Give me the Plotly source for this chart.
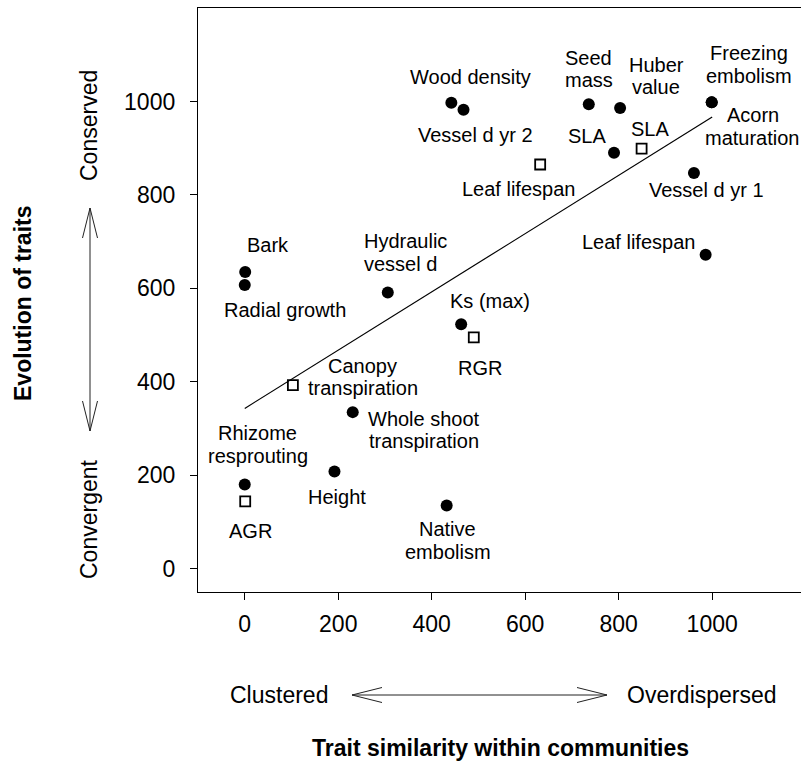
import plotly.graph_objects as go

# ---------------- data ----------------
circle_names = ["Bark", "Radial growth", "Hydraulic\nvessel d", "Whole shoot\ntranspiration",
                "Height", "Rhizome\nresprouting", "Native\nembolism", "Ks (max)",
                "Wood density", "Vessel d yr 2", "Seed\nmass", "Huber\nvalue",
                "Freezing\nembolism", "Acorn\nmaturation", "SLA", "Vessel d yr 1", "Leaf lifespan"]
circle_x = [1, 0, 306, 231, 192, 0, 432, 463, 442, 468, 736, 803, 999, 999, 790, 961, 986]
circle_y = [635, 607, 591, 335, 208, 180, 135, 523, 997, 982, 994, 986, 998, 998, 890, 847, 672]

square_names = ["Canopy\ntranspiration", "AGR", "RGR", "Leaf lifespan", "SLA"]
square_x = [103, 1, 490, 632, 849]
square_y = [393, 144, 495, 865, 899]

fit_intercept = 343.0
fit_slope = 0.6235
fit_x = [0, 1000]

tick_vals = [0, 200, 400, 600, 800, 1000]
x_title = "Trait similarity within communities"
y_title = "Evolution of traits"
x_left_label, x_right_label = "Clustered", "Overdispersed"
y_top_label, y_bottom_label = "Conserved", "Convergent"

# ---------------- label placement (pixel offsets from point: dx right, dy down) ----------------
circle_label_offsets = [(23, -27), (40, 25), (-26, -40), (71, 18), (3, 26), (13, -40), (1, 35),
                        (29, -23), (19, -26), (12, 25), (0, -35), (36, -32), (37, -38),
                        (41, 24), (-27, -17), (13, 17), (-67, -13)]
circle_label_anchor = ["center", "center", "left", "center", "center", "center", "center",
                       "center", "center", "center", "center", "center", "center",
                       "center", "center", "center", "center"]
square_label_offsets = [(70, -8), (5, 30), (6, 31), (-22, 24), (8, -20)]
square_label_anchor = ["center"] * 5

FONT = "Liberation Sans, Arial, sans-serif"
LABEL_SIZE = 20
BIG = 23
LINE_H = 22.5

W, H = 801, 778
ML, MR, MT, MB = 198, 0, 8, 186
PW, PH = W - ML - MR, H - MT - MB


def px(xp):
    return (xp - ML) / PW


def py(yp):
    return (H - MB - yp) / PH


fig = go.Figure()

fit_y = [fit_intercept + fit_slope * v for v in fit_x]
fig.add_trace(go.Scatter(x=fit_x, y=fit_y, mode="lines",
                         line=dict(color="black", width=1.2), hoverinfo="skip"))
fig.add_trace(go.Scatter(x=circle_x, y=circle_y, mode="markers",
                         marker=dict(symbol="circle", size=12, color="black"),
                         text=[n.replace("\n", " ") for n in circle_names]))
fig.add_trace(go.Scatter(x=square_x, y=square_y, mode="markers",
                         marker=dict(symbol="square-open", size=10, color="black",
                                     line=dict(width=1.8, color="black")),
                         text=[n.replace("\n", " ") for n in square_names]))

annotations = []


def add_labels(names, xs, ys, offsets, anchors):
    for name, x, y, (dx, dy), anc in zip(names, xs, ys, offsets, anchors):
        lines = name.split("\n")
        n = len(lines)
        for i, line in enumerate(lines):
            off = dy + (i - (n - 1) / 2) * LINE_H
            annotations.append(dict(
                x=x, y=y, xref="x", yref="y", text=line, showarrow=False,
                xshift=dx, yshift=-off, xanchor=anc, yanchor="middle",
                font=dict(family=FONT, size=LABEL_SIZE, color="black")))


add_labels(circle_names, circle_x, circle_y, circle_label_offsets, circle_label_anchor)
add_labels(square_names, square_x, square_y, square_label_offsets, square_label_anchor)

# axis titles and direction labels
annotations += [
    dict(x=px(500), y=py(748), xref="paper", yref="paper", text=f"<b>{x_title}</b>",
         showarrow=False, xanchor="center", yanchor="middle",
         font=dict(family=FONT, size=BIG, color="black")),
    dict(x=px(23), y=py(303), xref="paper", yref="paper", text=f"<b>{y_title}</b>",
         showarrow=False, xanchor="center", yanchor="middle", textangle=-90,
         font=dict(family=FONT, size=BIG, color="black")),
    dict(x=px(279), y=py(695), xref="paper", yref="paper", text=x_left_label,
         showarrow=False, xanchor="center", yanchor="middle",
         font=dict(family=FONT, size=BIG, color="black")),
    dict(x=px(702), y=py(695), xref="paper", yref="paper", text=x_right_label,
         showarrow=False, xanchor="center", yanchor="middle",
         font=dict(family=FONT, size=BIG, color="black")),
    dict(x=px(89), y=py(126), xref="paper", yref="paper", text=y_top_label,
         showarrow=False, xanchor="center", yanchor="middle", textangle=-90,
         font=dict(family=FONT, size=BIG, color="black")),
    dict(x=px(89), y=py(519), xref="paper", yref="paper", text=y_bottom_label,
         showarrow=False, xanchor="center", yanchor="middle", textangle=-90,
         font=dict(family=FONT, size=BIG, color="black")),
]


def seg(x0, y0, x1, y1):
    return dict(type="line", xref="paper", yref="paper",
                x0=px(x0), y0=py(y0), x1=px(x1), y1=py(y1),
                line=dict(color="#222", width=1))


shapes = [
    # vertical double arrow
    seg(90, 208, 90, 431),
    seg(90, 208, 82.5, 238), seg(90, 208, 97.5, 238),
    seg(90, 431, 82.5, 401), seg(90, 431, 97.5, 401),
    # horizontal double arrow
    seg(352, 695, 607, 695),
    seg(352, 695, 382, 687.5), seg(352, 695, 382, 702.5),
    seg(607, 695, 577, 687.5), seg(607, 695, 577, 702.5),
]

axis_common = dict(
    showgrid=False, zeroline=False, showline=True, linecolor="black", linewidth=1.3,
    ticks="outside", ticklen=7, tickwidth=1.2, tickcolor="black",
    tickvals=tick_vals, tickfont=dict(family=FONT, size=BIG, color="black"),
    automargin=False,
)

fig.update_layout(
    width=W, height=H,
    margin=dict(l=ML, r=MR, t=MT, b=MB, pad=0),
    paper_bgcolor="white", plot_bgcolor="white",
    showlegend=False,
    xaxis=dict(range=[-100, 1190], mirror=True, ticklabelstandoff=4, **axis_common),
    yaxis=dict(range=[-50, 1200], mirror=False, ticklabelstandoff=10, **axis_common),
    annotations=annotations,
    shapes=shapes,
)

fig.write_html("out.html")
